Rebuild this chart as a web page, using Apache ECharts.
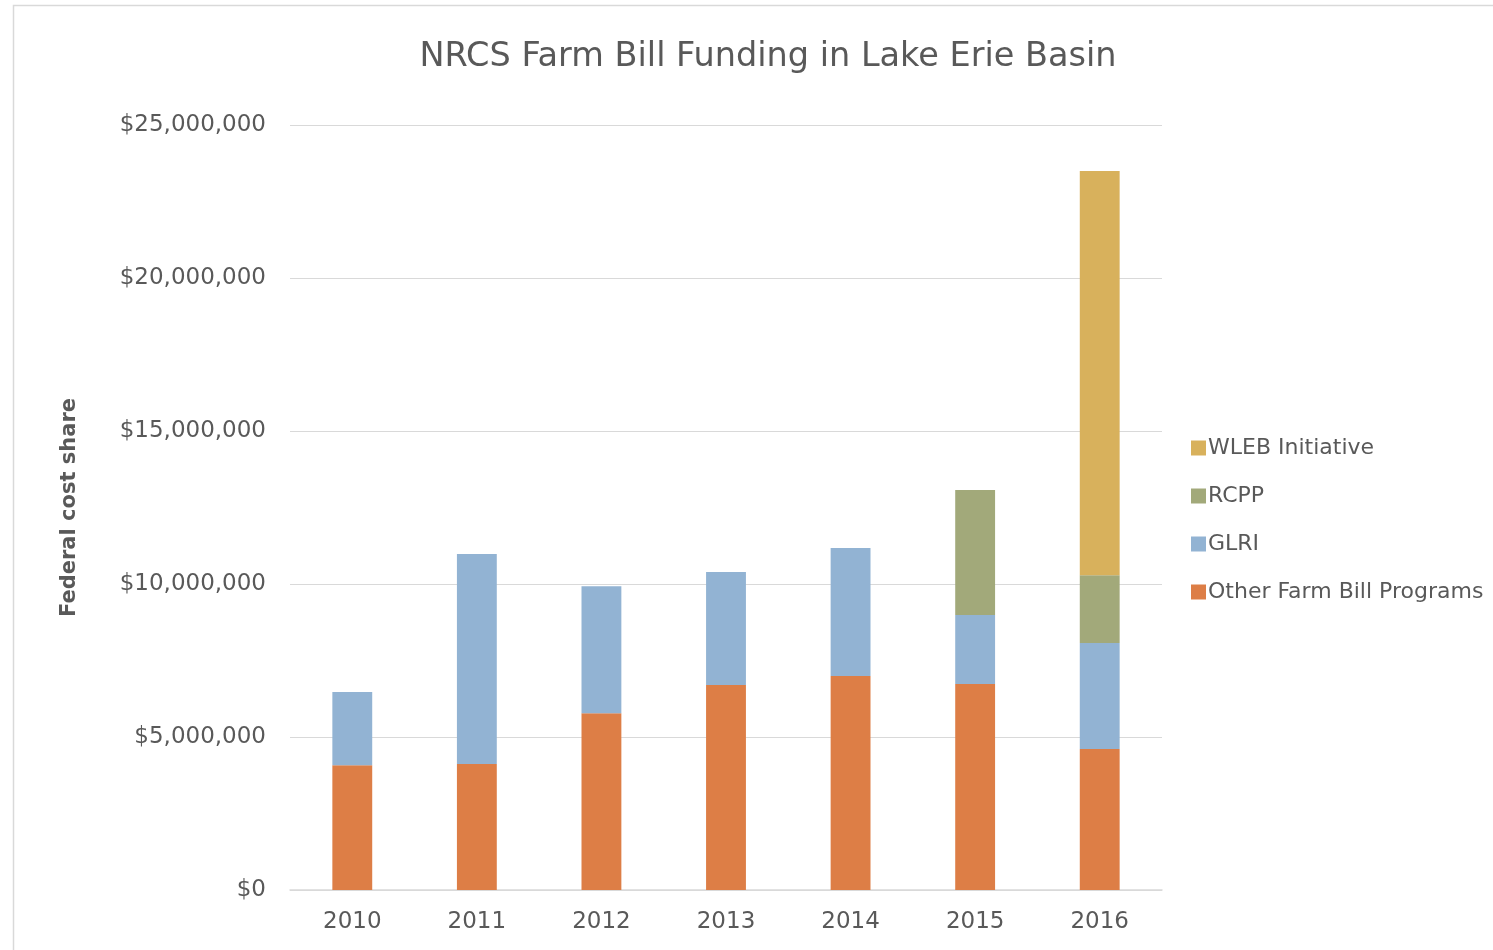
<!DOCTYPE html>
<html><head><meta charset="utf-8">
<script src="https://cdn.jsdelivr.net/npm/echarts@6/dist/echarts.min.js"></script>
<style>html,body{margin:0;padding:0;background:#fff}#c{width:1493px;height:950px}</style>
</head><body><div id="c"></div>
<script>
const years = ['2010','2011','2012','2013','2014','2015','2016'];
const otherFarmBill = [4080000, 4120000, 5780000, 6700000, 6990000, 6730000, 4610000];
const glri = [2390000, 6860000, 4150000, 3690000, 4190000, 2260000, 3460000];
const rcpp = [0, 0, 0, 0, 0, 4080000, 2220000];
const wleb = [0, 0, 0, 0, 0, 0, 13210000];
const yTicks = [0, 5000000, 10000000, 15000000, 20000000, 25000000];

const font = 'DejaVu Sans';
const chart = echarts.init(document.getElementById('c'));
function fmt(v){ return '$' + v.toString().replace(/\B(?=(\d{3})+(?!\d))/g, ','); }
const mk = (name, data, color) => ({
  name, type: 'bar', stack: 's', data: data.map(v => v === 0 ? null : v),
  barWidth: '32%', itemStyle: { color }, emphasis: { disabled: true }
});
chart.setOption({
  animation: false,
  backgroundColor: '#fff',
  graphic: [{ type: 'rect', shape: { x: 13.5, y: 5.5, width: 1500, height: 1000 },
    style: { fill: 'none', stroke: '#d9d9d9', lineWidth: 1.5 }, z: -1 }],
  title: { text: 'NRCS Farm Bill Funding in Lake Erie Basin', left: 763, top: 35, textAlign: 'center',
    textStyle: { fontFamily: font, fontSize: 33.5, fontWeight: 'normal', color: '#595959' } },
  grid: { left: 290, right: 331, top: 125, bottom: 60, containLabel: false },
  legend: {
    orient: 'vertical', left: 1186, top: 432, itemGap: 26, itemWidth: 15, itemHeight: 15,
    icon: 'rect', data: ['WLEB Initiative', 'RCPP', 'GLRI', 'Other Farm Bill Programs'],
    textStyle: { fontFamily: font, fontSize: 22, lineHeight: 22, color: '#595959', padding: [0, 0, 0, -3] }
  },
  xAxis: { type: 'category', data: years,
    axisLine: { lineStyle: { color: '#d9d9d9', width: 1.5 } }, axisTick: { show: false },
    axisLabel: { fontFamily: font, fontSize: 23, color: '#595959', margin: 21 } },
  yAxis: { type: 'value', min: 0, max: 25000000, interval: 5000000,
    name: 'Federal cost share', nameLocation: 'middle', nameGap: 210, nameRotate: 90,
    nameTextStyle: { fontFamily: font, fontSize: 21, fontWeight: 'bold', color: '#595959' },
    axisLine: { show: false }, axisTick: { show: false },
    splitLine: { lineStyle: { color: '#d9d9d9', width: 1 } },
    axisLabel: { fontFamily: font, fontSize: 23, color: '#595959', margin: 24, padding: [3, 0, 0, 0],
      formatter: v => yTicks.includes(v) ? fmt(v) : '' } },
  series: [
    mk('Other Farm Bill Programs', otherFarmBill, '#dd7e46'),
    mk('GLRI', glri, '#92b3d3'),
    mk('RCPP', rcpp, '#a2a97a'),
    mk('WLEB Initiative', wleb, '#d8b15c')
  ]
});
</script></body></html>
